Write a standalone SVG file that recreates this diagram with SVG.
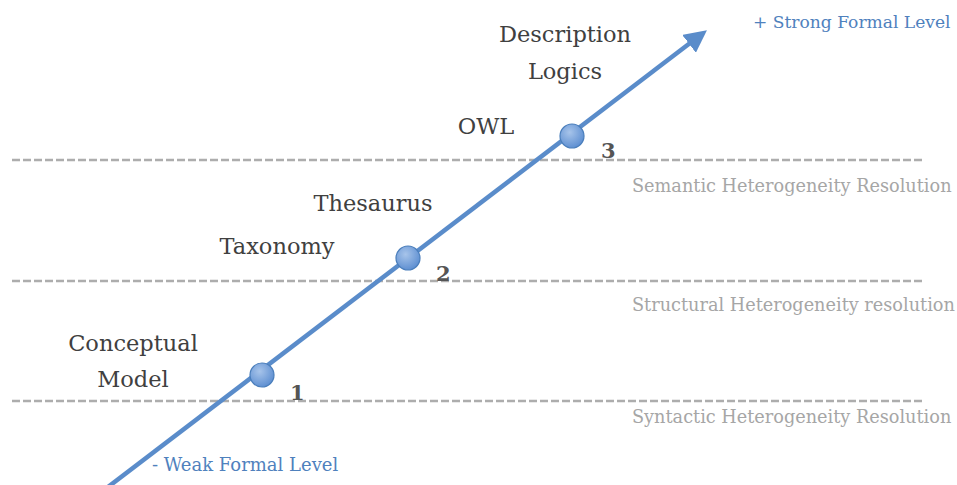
<svg xmlns="http://www.w3.org/2000/svg" width="957" height="485" viewBox="0 0 957 485">
<style>
.lbl{font-family:"DejaVu Serif","Liberation Serif",serif;font-size:22.5px;fill:#404040;text-anchor:middle}
.num{font-family:"DejaVu Serif","Liberation Serif",serif;font-size:21px;font-weight:bold;fill:#555555}
.res{font-family:"DejaVu Serif","Liberation Serif",serif;font-size:17.7px;fill:#a6a6a6}
.lvl{font-family:"DejaVu Serif","Liberation Serif",serif;fill:#4f81bd}
.dash{stroke:#adadad;stroke-width:2.5;stroke-dasharray:8 3;fill:none}
.axis{stroke:#5a8cca;stroke-width:4.5;fill:none}
.node{fill:url(#g);stroke:#4a7ebb;stroke-width:1.2}
</style>
<defs>
<radialGradient id="g" cx="40%" cy="35%" r="70%">
<stop offset="0" stop-color="#a7c4ea"/>
<stop offset="1" stop-color="#5a8cd0"/>
</radialGradient>
<marker id="ah" markerWidth="5" markerHeight="5" refX="2.5" refY="2.5" orient="auto" markerUnits="strokeWidth">
<path d="M0,0 L5,2.5 L0,5 z" fill="#5a8cca"/>
</marker>
</defs>
<g id="levels">
<line class="dash" x1="12" y1="160" x2="925" y2="160"/>
<line class="dash" x1="12" y1="281" x2="925" y2="281"/>
<line class="dash" x1="12" y1="401" x2="925" y2="401"/>
</g>
<g id="connectors">
<line class="axis" x1="108" y1="487" x2="698" y2="37" marker-end="url(#ah)"/>
</g>
<g id="node1"><circle class="node" cx="262" cy="375" r="12"/><text class="num" x="290" y="400">1</text></g>
<g id="node2"><circle class="node" cx="408" cy="258" r="12"/><text class="num" x="436" y="281">2</text></g>
<g id="node3"><circle class="node" cx="572" cy="136" r="12"/><text class="num" x="601" y="158">3</text></g>
<g id="labels">
<text class="lbl" x="565" y="42">Description</text>
<text class="lbl" x="565" y="79">Logics</text>
<text class="lbl" x="486" y="134">OWL</text>
<text class="lbl" x="373" y="211">Thesaurus</text>
<text class="lbl" x="277" y="254">Taxonomy</text>
<text class="lbl" x="133" y="351">Conceptual</text>
<text class="lbl" x="133" y="387">Model</text>
<text class="res" x="632" y="192">Semantic Heterogeneity Resolution</text>
<text class="res" x="632" y="311">Structural Heterogeneity resolution</text>
<text class="res" x="632" y="423">Syntactic Heterogeneity Resolution</text>
<text class="lvl" x="753" y="28" font-size="17.1">+ Strong Formal Level</text>
<text class="lvl" x="152" y="471" font-size="18">- Weak Formal Level</text>
</g>
</svg>
